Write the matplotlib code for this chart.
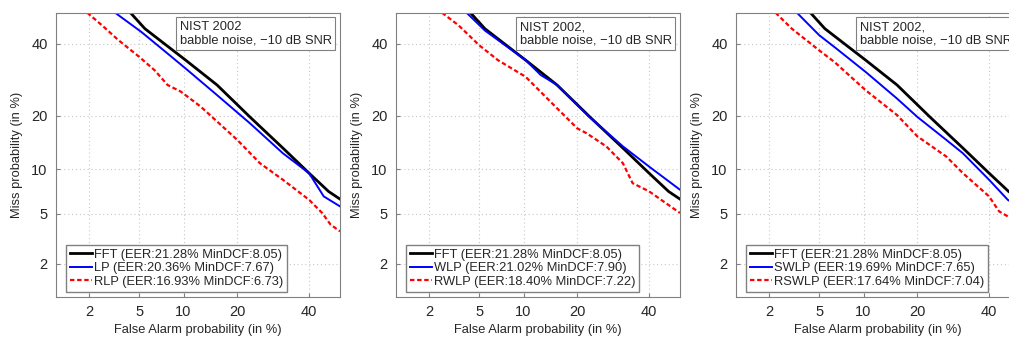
import math
import numpy as np
import matplotlib
matplotlib.use("Agg")
import matplotlib.pyplot as plt
from matplotlib.ticker import NullLocator

plt.rcParams['font.family'] = ['Liberation Sans', 'DejaVu Sans']
plt.rcParams['font.size'] = 9.3

# DET curves: false alarm (%) vs miss (%)
fft_fa = [4.3, 5.5, 7.5, 10.3, 15.7, 23.0, 32.0, 40.0, 46.3, 50.0]
fft_miss = [50.0, 44.8, 40.0, 34.9, 27.7, 19.7, 13.4, 9.46, 7.17, 6.36]

lp_fa = [3.27, 5.2, 7.9, 10.3, 15.7, 23.0, 32.0, 40.0, 44.7, 50.0]
lp_miss = [50.0, 43.7, 36.9, 32.4, 25.0, 18.3, 12.5, 9.46, 6.64, 5.65]

rlp_fa = [1.92, 2.56, 3.48, 5.0, 6.44, 7.9, 9.63, 12.7, 20.0, 25.6, 32.0, 40.0, 44.2, 46.9, 50.0]
rlp_miss = [50.0, 45.9, 41.1, 35.9, 31.9, 27.7, 25.9, 22.1, 14.9, 10.9, 8.58, 6.29, 5.06, 4.15, 3.68]

wlp_fa = [4.02, 5.5, 10.3, 12.7, 15.7, 23.0, 32.0, 40.0, 50.0]
wlp_miss = [50.0, 44.2, 34.9, 30.5, 27.7, 19.6, 13.7, 10.4, 7.37]

rwlp_fa = [2.56, 3.48, 5.0, 6.79, 10.3, 15.7, 20.0, 22.2, 27.3, 32.0, 34.9, 40.0, 50.0]
rwlp_miss = [50.0, 45.9, 39.5, 34.9, 30.0, 21.7, 17.2, 16.2, 13.7, 10.9, 8.15, 7.19, 5.06]

swlp_fa = [3.38, 5.0, 6.44, 10.3, 15.7, 20.0, 27.3, 32.0, 40.0, 46.0, 50.0]
swlp_miss = [50.0, 42.7, 38.9, 31.4, 24.1, 19.7, 14.9, 12.5, 8.58, 6.29, 5.5]

rswlp_fa = [2.26, 3.08, 5.0, 6.44, 10.3, 15.7, 20.0, 27.3, 32.0, 40.0, 43.2, 46.0, 50.0]
rswlp_miss = [50.0, 44.8, 37.9, 34.3, 26.3, 20.1, 15.6, 11.96, 9.46, 6.64, 5.2, 4.78, 4.0]

panels = [
    ("NIST 2002\nbabble noise, \u221210 dB SNR",
     [("FFT (EER:21.28% MinDCF:8.05)", fft_fa, fft_miss),
      ("LP (EER:20.36% MinDCF:7.67)", lp_fa, lp_miss),
      ("RLP (EER:16.93% MinDCF:6.73)", rlp_fa, rlp_miss)]),
    ("NIST 2002,\nbabble noise, \u221210 dB SNR",
     [("FFT (EER:21.28% MinDCF:8.05)", fft_fa, fft_miss),
      ("WLP (EER:21.02% MinDCF:7.90)", wlp_fa, wlp_miss),
      ("RWLP (EER:18.40% MinDCF:7.22)", rwlp_fa, rwlp_miss)]),
    ("NIST 2002,\nbabble noise, \u221210 dB SNR",
     [("FFT (EER:21.28% MinDCF:8.05)", fft_fa, fft_miss),
      ("SWLP (EER:19.69% MinDCF:7.65)", swlp_fa, swlp_miss),
      ("RSWLP (EER:17.64% MinDCF:7.04)", rswlp_fa, rswlp_miss)]),
]

ticks = [2, 5, 10, 20, 40]

# normal deviate scale (probit) for the DET plot
_z = np.linspace(-6, 6, 24001)
_erf = np.vectorize(math.erf)
_cdf = 0.5 * (1 + _erf(_z / math.sqrt(2)))


def probit(p):
    return np.interp(np.asarray(p, dtype=float) / 100.0, _cdf, _z)


def inv_probit(z):
    return 100.0 * 0.5 * (1 + _erf(np.asarray(z, dtype=float) / math.sqrt(2)))


styles = [dict(color='black', lw=2.0),
          dict(color='#0000ff', lw=1.4),
          dict(color='#ff0000', lw=1.6, ls=(0, (2, 1.2)))]

W, H = 1009, 337
fig = plt.figure(figsize=(W / 100, H / 100), dpi=100)
lefts = [56, 396, 736]
tc = '#262626'
gc = '#808080'

for left, (note, curves) in zip(lefts, panels):
    ax = fig.add_axes([left / W, (H - 297) / H, 284 / W, (297 - 12.7) / H])
    ax.set_xscale('function', functions=(probit, inv_probit))
    ax.set_yscale('function', functions=(probit, inv_probit))
    for (label, fa, miss), st in zip(curves, styles):
        ax.plot(fa, miss, label=label, **st)
    ax.set_xlim(1, 50)
    ax.set_ylim(1, 50)
    ax.set_xticks(ticks)
    ax.set_xticklabels([str(t) for t in ticks])
    ax.set_yticks(ticks)
    ax.set_yticklabels([str(t) for t in ticks])
    ax.xaxis.set_minor_locator(NullLocator())
    ax.yaxis.set_minor_locator(NullLocator())
    ax.grid(True, ls=(0, (1, 2.5)), color='#c8c8c8', lw=0.8)
    ax.tick_params(direction='in', length=3, color=gc, labelcolor=tc, pad=6,
                   labelsize=10.5)
    for s in ax.spines.values():
        s.set_color(gc)
        s.set_linewidth(0.8)
    ax.set_xlabel("False Alarm probability (in %)", color=tc, labelpad=3)
    ax.set_ylabel("Miss probability (in %)", color=tc, labelpad=6)
    ax.text(0.435, 0.97, note, transform=ax.transAxes, ha='left', va='top',
            color=tc, linespacing=1.15,
            bbox=dict(boxstyle='square,pad=0.3', fc='white', ec=gc, lw=0.8))
    leg = ax.legend(loc='lower left', bbox_to_anchor=(0.035, 0.018), borderaxespad=0,
                    fancybox=False, framealpha=1, edgecolor=gc, handlelength=1.7,
                    handletextpad=0.15, labelspacing=0.12, borderpad=0.3)
    for t in leg.get_texts():
        t.set_color(tc)

fig.savefig("out.png", dpi=100)
